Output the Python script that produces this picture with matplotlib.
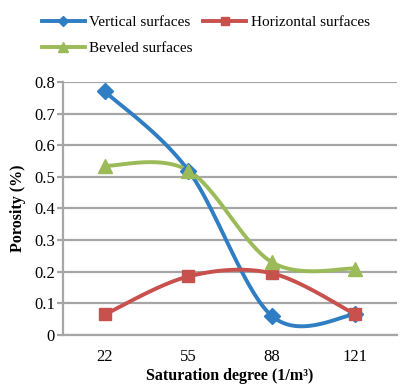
import numpy as np
import matplotlib.pyplot as plt
from matplotlib.lines import Line2D

categories = ['22', '55', '88', '121']
vertical = [0.77, 0.52, 0.06, 0.065]
horizontal = [0.065, 0.185, 0.195, 0.065]
beveled = [0.535, 0.52, 0.23, 0.21]

plt.rcParams['font.family'] = ['Liberation Serif', 'DejaVu Serif']


def smooth(y, n=40):
    # Catmull-Rom style bezier, like Excel's smoothed line
    x = np.arange(len(y), dtype=float)
    y = np.asarray(y, dtype=float)
    px = np.concatenate([[x[0]], x, [x[-1]]])
    py = np.concatenate([[y[0]], y, [y[-1]]])
    xs, ys = [], []
    t = np.linspace(0, 1, n)
    for i in range(len(y) - 1):
        p0 = np.array([x[i], y[i]])
        p3 = np.array([x[i + 1], y[i + 1]])
        c1 = p0 + (np.array([px[i + 2], py[i + 2]]) - np.array([px[i], py[i]])) / 6
        c2 = p3 - (np.array([px[i + 3], py[i + 3]]) - np.array([px[i + 1], py[i + 1]])) / 6
        b = ((1 - t) ** 3)[:, None] * p0 + (3 * (1 - t) ** 2 * t)[:, None] * c1 \
            + (3 * (1 - t) * t ** 2)[:, None] * c2 + (t ** 3)[:, None] * p3
        xs.append(b[:, 0])
        ys.append(b[:, 1])
    return np.concatenate(xs), np.concatenate(ys)


fig = plt.figure(figsize=(4.02, 3.85), dpi=100)
ax = fig.add_axes([0.157, 0.130, 0.831, 0.657])

series = [
    (vertical, '#2F7DC2', 'D', 8, 'Vertical surfaces'),
    (horizontal, '#C8504D', 's', 9, 'Horizontal surfaces'),
    (beveled, '#9BBB59', '^', 10, 'Beveled surfaces'),
]
handles = []
for vals, col, mk, ms, lab in series:
    sx, sy = smooth(vals)
    ax.plot(sx, sy, color=col, lw=2.8, zorder=3)
    ax.plot(np.arange(len(vals)), vals, ls='none', marker=mk, ms=ms,
            color=col, zorder=4)
    handles.append(Line2D([], [], color=col, lw=2.8, marker=mk, ms=ms * 0.65, label=lab))

ax.set_xlim(-0.5, 3.5)
ax.set_ylim(0, 0.8)
ax.set_xticks(range(4))
ax.set_xticklabels(categories, fontsize=12)
ax.set_yticks(np.arange(0, 0.81, 0.1))
ax.set_yticklabels(['0'] + ['%.1f' % v for v in np.arange(0.1, 0.81, 0.1)], fontsize=12)
ax.yaxis.grid(True, color='#A6A6A6', lw=1.6)
ax.set_axisbelow(True)
for s in ['top', 'right']:
    ax.spines[s].set_visible(False)
ax.spines['left'].set_color('#A6A6A6')
ax.spines['bottom'].set_color('#A6A6A6')
ax.spines['left'].set_linewidth(1.6)
ax.spines['bottom'].set_linewidth(1.6)
ax.tick_params(axis='y', length=4, color='#A6A6A6', width=1.6, pad=2)
ax.tick_params(axis='x', length=0, pad=10)

ax.set_ylabel('Porosity (%)', fontsize=11.5, fontweight='bold', labelpad=6)
ax.set_xlabel('Saturation degree (1/m³)', fontsize=11.5, fontweight='bold', labelpad=2)

fig.legend(handles=[handles[0], handles[2], handles[1]], ncol=2, frameon=False,
           loc='upper left', bbox_to_anchor=(0.07, 0.995), fontsize=11,
           handlelength=2.8, handletextpad=0.3, columnspacing=0.7, labelspacing=0.8)

fig.savefig('out.png', dpi=100)
